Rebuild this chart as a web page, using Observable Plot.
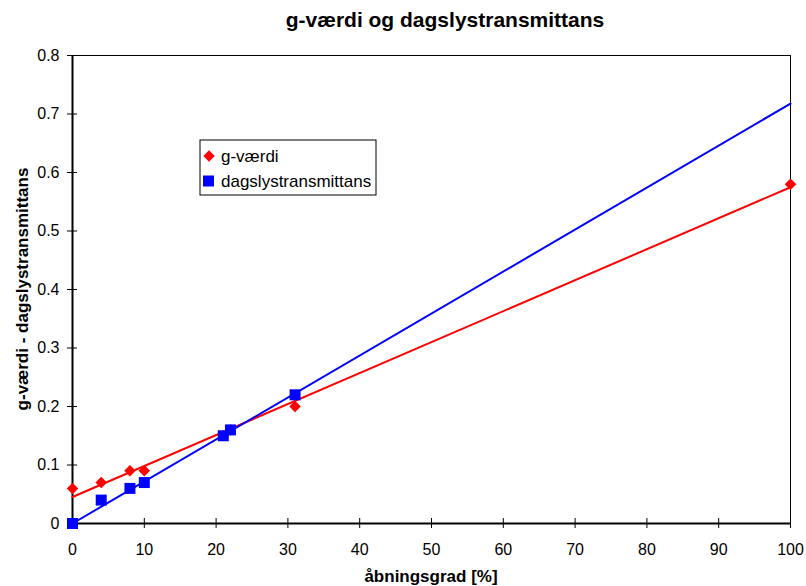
<!DOCTYPE html>
<html>
<head>
<meta charset="utf-8">
<script src="https://cdn.jsdelivr.net/npm/d3@7"></script>
<script src="https://cdn.jsdelivr.net/npm/@observablehq/plot@0.6"></script>
<style>
  html, body { margin: 0; padding: 0; background: #fff; }
  #chart { width: 806px; height: 586px; }
</style>
</head>
<body>
<div id="chart"></div>
<script>
const titleText = "g-værdi og dagslystransmittans";
const xLabel = "åbningsgrad [%]";
const yLabel = "g-værdi - dagslystransmittans";
const seriesNames = ["g-værdi", "dagslystransmittans"];
const seriesColors = ["#FF0000", "#0000FF"];

const gX = [0, 4, 8, 10, 21, 22, 31, 100];
const gValues = [0.06, 0.07, 0.09, 0.09, 0.15, 0.16, 0.20, 0.58];
const dX = [0, 4, 8, 10, 21, 22, 31];
const dValues = [0, 0.04, 0.06, 0.07, 0.15, 0.16, 0.22];

const xTicks = [0, 10, 20, 30, 40, 50, 60, 70, 80, 90, 100];
const yTicks = [0, 0.1, 0.2, 0.3, 0.4, 0.5, 0.6, 0.7, 0.8];

const gData = gX.map((x, i) => ({x, y: gValues[i]}));
const dData = dX.map((x, i) => ({x, y: dValues[i]}));

// Trend line for dagslystransmittans: linear fit through origin, extended over the x domain
const slopeD = d3.sum(dData, d => d.x * d.y) / d3.sum(dData, d => d.x * d.x);
const xDomain = d3.extent(xTicks);
const dTrend = xDomain.map(x => ({x, y: slopeD * x}));

const W = 806, H = 586;
const mL = 72, mR = 16, mT = 55, mB = 63;
const font = "'Liberation Sans', Arial, sans-serif";

const plot = Plot.plot({
  width: W, height: H,
  marginLeft: mL, marginRight: mR, marginTop: mT, marginBottom: mB,
  style: {fontFamily: font, fontSize: "16px", color: "#000", background: "#fff"},
  x: {domain: xDomain, ticks: xTicks},
  y: {domain: d3.extent(yTicks), ticks: yTicks},
  marks: [
    Plot.frame({stroke: "#000", strokeWidth: 1}),
    Plot.axisX({ticks: xTicks, tickSize: 5, tickPadding: 15, label: null, fontSize: 16}),
    Plot.axisX({ticks: xTicks, tickSize: -5, tickFormat: () => "", label: null}),
    Plot.axisY({ticks: yTicks, tickSize: 5, tickPadding: 8, label: null, fontSize: 16,
      tickFormat: d => String(+d.toFixed(1))}),
    Plot.axisY({ticks: yTicks, tickSize: -5, tickFormat: () => "", label: null}),
    Plot.ruleX([0], {stroke: "#000", strokeWidth: 2}),
    Plot.ruleY([0], {stroke: "#000", strokeWidth: 2}),
    Plot.linearRegressionY(gData, {x: "x", y: "y", stroke: seriesColors[0], strokeWidth: 2, ci: 0}),
    Plot.line(dTrend, {x: "x", y: "y", stroke: seriesColors[1], strokeWidth: 2}),
    Plot.dot(gData, {x: "x", y: "y", symbol: "square", rotate: 45, r: 4.6, fill: seriesColors[0], stroke: "none"}),
    Plot.dot(dData, {x: "x", y: "y", symbol: "square", r: 6.2, fill: seriesColors[1], stroke: "none"})
  ]
});

const svg = d3.select(plot);

svg.append("text")
  .attr("x", 445).attr("y", 27)
  .attr("text-anchor", "middle")
  .attr("font-family", font).attr("font-size", 21).attr("font-weight", "bold")
  .text(titleText);

svg.append("text")
  .attr("x", (mL + W - mR) / 2).attr("y", 582)
  .attr("text-anchor", "middle")
  .attr("font-family", font).attr("font-size", 17).attr("font-weight", "bold")
  .text(xLabel);

svg.append("text")
  .attr("transform", `translate(28, ${(mT + H - mB) / 2}) rotate(-90)`)
  .attr("text-anchor", "middle")
  .attr("font-family", font).attr("font-size", 17).attr("font-weight", "bold")
  .text(yLabel);

// Legend
const lg = svg.append("g").attr("transform", "translate(200, 140)");
lg.append("rect").attr("x", 0).attr("y", 0).attr("width", 176).attr("height", 55)
  .attr("fill", "#fff").attr("stroke", "#000").attr("stroke-width", 1);
seriesNames.forEach((name, i) => {
  const cy = 16 + i * 25;
  if (i === 0) {
    lg.append("rect").attr("x", -4).attr("y", -4).attr("width", 8).attr("height", 8)
      .attr("fill", seriesColors[i])
      .attr("transform", `translate(9, ${cy}) rotate(45)`);
  } else {
    lg.append("rect").attr("x", 3).attr("y", cy - 5.5).attr("width", 11).attr("height", 11)
      .attr("fill", seriesColors[i]);
  }
  lg.append("text").attr("x", 21).attr("y", cy + 6)
    .attr("text-anchor", "start")
    .attr("font-family", font).attr("font-size", 17)
    .text(name);
});

document.getElementById("chart").appendChild(plot);
</script>
</body>
</html>
